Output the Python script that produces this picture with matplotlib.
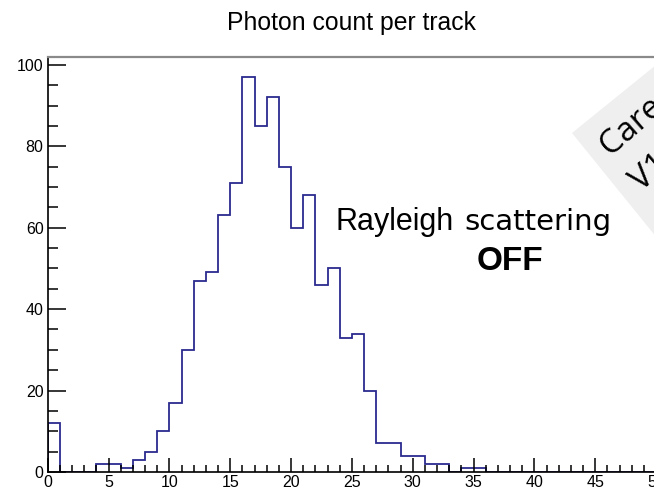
import numpy as np
import matplotlib.pyplot as plt
from matplotlib.patches import Polygon
from matplotlib.ticker import MultipleLocator

plt.rcParams['font.family'] = 'Liberation Sans'

W, H = 654, 491

# photon count histogram, unit bins from 0 to 50
edges = np.arange(0, 51)
counts = [12, 0, 0, 0, 2, 2, 1, 3, 5, 10,
          17, 30, 47, 49, 63, 71, 97, 85, 92, 75,
          60, 68, 46, 50, 33, 34, 20, 7, 7, 4,
          4, 2, 2, 0, 1, 1, 0, 0, 0, 0,
          0, 0, 0, 0, 0, 0, 0, 0, 0, 0]


def px(x, y):
    # pixel position (origin top-left) -> figure fraction
    return x / W, 1 - y / H


fig = plt.figure(figsize=(W / 100, H / 100), dpi=100)
left, top = px(47.7, 57.3)
right, bottom = px(656, 472)
ax = fig.add_axes([left, bottom, right - left, top - bottom])

ax.stairs(counts, edges, color='#2b2b8f', linewidth=1.3)

ax.set_xlim(0, 50)
ax.set_ylim(0, 1.05 * max(counts))
ax.xaxis.set_major_locator(MultipleLocator(5))
ax.xaxis.set_minor_locator(MultipleLocator(1))
ax.yaxis.set_major_locator(MultipleLocator(20))
ax.yaxis.set_minor_locator(MultipleLocator(5))
ax.tick_params(which='both', direction='in', top=False, right=False,
               labelsize=11.5, width=1.1, color='black')
ax.tick_params(axis='x', which='major', length=10, pad=2.5)
ax.tick_params(axis='x', which='minor', length=5)
ax.tick_params(axis='y', which='major', length=13, pad=3)
ax.tick_params(axis='y', which='minor', length=7)

for s in ['left', 'bottom']:
    ax.spines[s].set_linewidth(1.2)
ax.spines['top'].set_color('#8a8a8a')
ax.spines['top'].set_linewidth(1.6)
ax.spines['right'].set_visible(False)

ax.set_title('Photon count per track', fontsize=17.8, pad=20)

# annotation on the plot
fig.text(*px(335, 230), 'Rayleigh', fontsize=22, ha='left', va='baseline')
fig.text(*px(464, 230), 'scattering', fontsize=21, family='DejaVu Sans',
         ha='left', va='baseline')
fig.text(*px(477, 270), 'OFF', fontsize=24, fontweight='bold',
         ha='left', va='baseline')

# grey rotated label box at the right edge
ang = np.deg2rad(39)
u = np.array([np.cos(ang), -np.sin(ang)])
v = np.array([np.sin(ang), np.cos(ang)])
p0 = np.array([572, 133])
L = 260
corners = [p0, p0 + L * u, p0 + L * u + L * v, p0 + L * v]
box = Polygon([px(*c) for c in corners], closed=True, transform=fig.transFigure,
              facecolor='#efefef', edgecolor='none', zorder=5)
fig.add_artist(box)
fig.text(*px(610, 156), 'Care', fontsize=24, family='Open Sans', rotation=41,
         rotation_mode='anchor', ha='left', va='baseline', zorder=6)
fig.text(*px(641, 192), 'V1', fontsize=24, family='Open Sans', rotation=41,
         rotation_mode='anchor', ha='left', va='baseline', zorder=6)

fig.savefig('out.png', dpi=100)
